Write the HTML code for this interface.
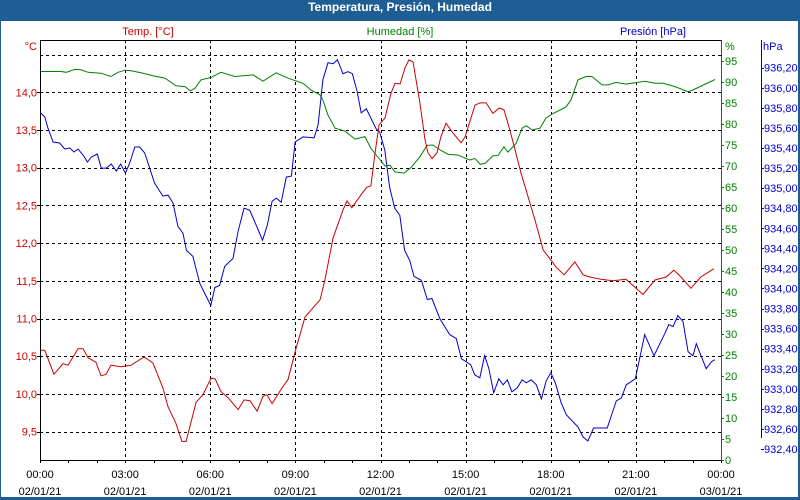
<!DOCTYPE html>
<html><head><meta charset="utf-8"><style>
html,body{margin:0;padding:0;background:#fff}
#wrap{position:relative;width:800px;height:500px;overflow:hidden;background:#1f5e94}
#inner{position:absolute;left:1px;top:21px;width:797px;height:476px;background:#fff}
#title{position:absolute;left:0;top:0;width:800px;height:21px;line-height:20px;text-align:center;color:#fff;font:bold 12px "Liberation Sans",sans-serif}
svg{position:absolute;left:0;top:0}
text{font-family:"Liberation Sans",sans-serif;font-size:11px}
</style></head><body>
<div id="wrap">
<div id="inner"></div>
<div id="title">Temperatura, Presión, Humedad</div>
<svg id="chart" width="800" height="500"></svg>
</div>
<script>
const tempTimes=[0.02,0.17,0.49,0.81,0.99,1.34,1.52,1.69,1.97,2.15,2.33,2.5,2.85,3.21,3.67,3.98,4.33,4.51,4.79,5.0,5.15,5.5,5.74,6.03,6.17,6.38,6.63,6.98,7.19,7.4,7.65,7.86,8.0,8.18,8.53,8.74,8.99,9.34,9.55,9.87,10.04,10.33,10.68,10.82,10.99,11.35,11.52,11.66,11.81,11.95,12.09,12.16,12.37,12.51,12.69,12.86,13.0,13.15,13.39,13.57,13.67,13.82,13.99,14.13,14.31,14.55,14.84,14.98,15.33,15.51,15.72,15.96,16.18,16.35,16.56,16.95,17.44,17.73,18.08,18.19,18.47,18.85,19.14,19.38,19.77,20.19,20.65,21.25,21.67,22.06,22.34,22.59,22.94,23.29,23.75];
const tempValues=[10.58,10.58,10.26,10.4,10.38,10.6,10.6,10.48,10.42,10.24,10.26,10.38,10.36,10.38,10.49,10.41,10.08,9.83,9.61,9.37,9.37,9.89,9.99,10.21,10.2,10.03,9.95,9.79,9.92,9.91,9.77,9.97,9.99,9.87,10.08,10.19,10.56,11.02,11.11,11.25,11.51,12.07,12.44,12.56,12.47,12.66,12.74,12.76,13.2,13.57,13.63,13.66,13.99,14.12,14.11,14.32,14.43,14.4,13.86,13.37,13.2,13.12,13.2,13.41,13.59,13.46,13.33,13.41,13.83,13.86,13.86,13.72,13.79,13.77,13.5,12.93,12.31,11.91,11.74,11.68,11.58,11.75,11.58,11.55,11.52,11.5,11.52,11.32,11.51,11.55,11.64,11.55,11.4,11.55,11.66];
const humTimes=[0.02,0.74,0.92,1.23,1.44,1.69,2.15,2.5,2.75,3.0,3.21,3.56,3.98,4.41,4.79,5.11,5.29,5.46,5.67,6.03,6.38,6.87,7.51,7.86,8.32,8.74,9.27,9.55,9.87,9.97,10.15,10.4,10.75,11.1,11.45,11.66,12.09,12.16,12.33,12.51,12.83,13.07,13.39,13.64,13.85,14.1,14.38,14.73,15.15,15.33,15.51,15.68,15.96,16.14,16.35,16.49,16.78,16.99,17.13,17.34,17.62,17.83,18.08,18.26,18.54,18.71,18.96,19.24,19.45,19.81,20.02,20.3,20.65,21.32,21.67,21.96,22.38,22.84,23.01,23.79];
const humValues=[92.5,92.5,92.3,93.0,92.9,92.3,92.1,91.3,92.3,92.8,92.7,92.2,91.5,90.9,89.1,88.9,87.9,88.5,90.5,91.1,92.3,91.3,91.7,90.2,92.2,90.9,89.7,88.1,86.9,85.7,82.1,79.0,78.3,76.4,77.0,74.2,70.6,70.0,70.2,68.6,68.3,69.6,72.2,74.9,75.0,73.8,72.8,72.6,71.4,71.8,70.4,70.6,72.4,72.5,74.6,73.3,75.4,79.0,79.6,78.6,79.0,81.4,82.5,83.1,84.1,85.7,90.5,91.3,91.3,89.3,89.3,89.9,89.5,90.2,89.7,89.7,88.9,87.7,88.1,90.6];
const presTimes=[0.02,0.17,0.28,0.46,0.69,0.87,1.05,1.2,1.34,1.52,1.67,1.81,2.02,2.16,2.34,2.51,2.69,2.84,3.01,3.16,3.34,3.51,3.69,4.04,4.33,4.51,4.69,4.86,5.04,5.16,5.39,5.63,5.86,6.02,6.16,6.33,6.51,6.8,6.98,7.19,7.39,7.62,7.84,8.01,8.18,8.33,8.5,8.68,8.86,8.99,9.27,9.66,9.8,9.97,10.15,10.33,10.48,10.68,10.85,11.01,11.18,11.32,11.5,11.85,11.97,12.15,12.32,12.5,12.68,12.85,13.03,13.18,13.44,13.65,13.81,14.09,14.44,14.67,14.85,15.18,15.32,15.5,15.67,15.82,15.99,16.17,16.32,16.47,16.63,16.82,16.99,17.14,17.31,17.49,17.67,17.84,18.0,18.16,18.37,18.55,18.96,19.14,19.31,19.51,19.76,19.99,20.31,20.49,20.66,20.98,21.13,21.31,21.64,22.02,22.16,22.31,22.48,22.66,22.84,23.01,23.13,23.48,23.66,23.78];
const presValues=[935.75,935.71,935.6,935.46,935.45,935.39,935.4,935.36,935.39,935.33,935.26,935.31,935.34,935.2,935.2,935.24,935.17,935.24,935.15,935.25,935.41,935.41,935.35,935.05,934.92,934.93,934.85,934.62,934.55,934.38,934.32,934.05,933.92,933.83,934.01,934.03,934.22,934.3,934.57,934.8,934.78,934.63,934.48,934.63,934.87,934.9,934.86,935.11,935.12,935.46,935.51,935.5,935.63,936.08,936.25,936.24,936.28,936.14,936.16,936.14,935.96,935.75,935.79,935.59,935.56,935.38,935.01,934.8,934.73,934.38,934.28,934.12,934.08,933.89,933.9,933.7,933.54,933.5,933.3,933.24,933.14,933.11,933.33,933.2,932.96,933.1,933.04,933.09,932.97,933.01,933.09,933.06,933.09,933.04,932.9,933.08,933.16,933.06,932.86,932.74,932.62,932.52,932.48,932.61,932.61,932.61,932.88,932.91,933.04,933.1,933.3,933.54,933.33,933.55,933.64,933.62,933.73,933.67,933.37,933.33,933.45,933.2,933.27,933.29];
const xTickHours=[0,3,6,9,12,15,18,21,24];
const xTimeLabels=["00:00","03:00","06:00","09:00","12:00","15:00","18:00","21:00","00:00"];
const xDateLabels=["02/01/21","02/01/21","02/01/21","02/01/21","02/01/21","02/01/21","02/01/21","02/01/21","03/01/21"];
const tempTicks=[9.5,10.0,10.5,11.0,11.5,12.0,12.5,13.0,13.5,14.0];
const humTicks=[0,5,10,15,20,25,30,35,40,45,50,55,60,65,70,75,80,85,90,95];
const presTicks=[932.4,932.6,932.8,933.0,933.2,933.4,933.6,933.8,934.0,934.2,934.4,934.6,934.8,935.0,935.2,935.4,935.6,935.8,936.0,936.2];

const L=40,R=721,T=40,B=460;
const xS=h=>L+h*(R-L)/24;
const tY=v=>92.3-(v-14)*75.4;
const hY=v=>B-v*4.2;
const pY=v=>67.7+(936.2-v)*100.35;
const NS='http://www.w3.org/2000/svg';
const svg=document.getElementById('chart');
function mk(tag,attrs,parent){const e=document.createElementNS(NS,tag);for(const k in attrs)e.setAttribute(k,attrs[k]);(parent||svg).appendChild(e);return e;}
const fmt=(v,d)=>v.toFixed(d).replace('.',',');

// grid
const grid=mk('g',{});


for(let i=1;i<xTickHours.length-1;i++){const x=Math.round(xS(xTickHours[i]))+0.5;const l=mk('line',{x1:x,x2:x,y1:T,y2:B,stroke:'#000','stroke-dasharray':'3,3'},grid);}
for(const v of tempTicks.concat([14.5])){const y=Math.round(tY(v))+0.5;const l=mk('line',{x1:L,x2:R,y1:y,y2:y,stroke:'#000','stroke-dasharray':'3,3'},grid);}

// series
function series(times,vals,yf,color,name){const d=times.map((t,i)=>(i?'L':'M')+xS(t).toFixed(1)+','+yf(vals[i]).toFixed(1)).join('');const p=mk('path',{d:d,fill:'none',stroke:color,'stroke-width':1});}
series(humTimes,humValues,hY,'#008000','humidity-line');
series(presTimes,presValues,pY,'#0000cc','pressure-line');
series(tempTimes,tempValues,tY,'#cc0000','temperature-line');

// axes
const ax=mk('g',{});


mk('line',{x1:L+0.5,x2:L+0.5,y1:T,y2:B+1,stroke:'#000'},ax);
mk('line',{x1:L,x2:R,y1:T+0.5,y2:T+0.5,stroke:'#000'},ax);
mk('line',{x1:L,x2:R,y1:B+0.5,y2:B+0.5,stroke:'#000'},ax);
mk('line',{x1:R+0.5,x2:R+0.5,y1:T,y2:B+1,stroke:'#008000'},ax);
mk('line',{x1:761.5,x2:761.5,y1:T,y2:438,stroke:'#0000cc'},ax);
for(let h=0;h<=24;h++){const x=Math.round(xS(h))+0.5;mk('line',{x1:x,x2:x,y1:B,y2:B+3,stroke:'#000'},ax);}
for(let i=0;i<xTickHours.length;i++){const x=xS(xTickHours[i]);
const a=mk('text',{x:x,y:478,'text-anchor':'middle',fill:'#000'});a.textContent=xTimeLabels[i];
const b=mk('text',{x:x,y:495,'text-anchor':'middle',fill:'#000'});b.textContent=xDateLabels[i];}
for(const v of tempTicks){const y=tY(v);mk('line',{x1:L-3,x2:L,y1:Math.round(y)+0.5,y2:Math.round(y)+0.5,stroke:'#000'},ax);
const t=mk('text',{x:37,y:y+4,'text-anchor':'end',fill:'#cc0000'});t.textContent=fmt(v,1);}
for(const v of humTicks){const y=hY(v);mk('line',{x1:R,x2:R+3,y1:Math.round(y)+0.5,y2:Math.round(y)+0.5,stroke:'#008000'},ax);
const t=mk('text',{x:725,y:y+4,fill:'#008000'});t.textContent=String(v);}
for(const v of presTicks){const y=pY(v);mk('line',{x1:761,x2:764,y1:Math.round(y)+0.5,y2:Math.round(y)+0.5,stroke:'#0000cc'},ax);
const t=mk('text',{x:764,y:y+4,fill:'#0000cc'});t.textContent=fmt(v,2);}
</script>
<svg width="800" height="500" style="pointer-events:none">
<text x="148" y="35" text-anchor="middle" fill="#cc0000">Temp. [°C]</text>
<text x="400" y="35" text-anchor="middle" fill="#008000">Humedad [%]</text>
<text x="686" y="35" text-anchor="end" fill="#0000cc">Presión [hPa]</text>
<text x="37" y="50" text-anchor="end" fill="#cc0000">°C</text>
<text x="725" y="50" fill="#008000">%</text>
<text x="763" y="50" fill="#0000cc">hPa</text>
</svg>
</body></html>
